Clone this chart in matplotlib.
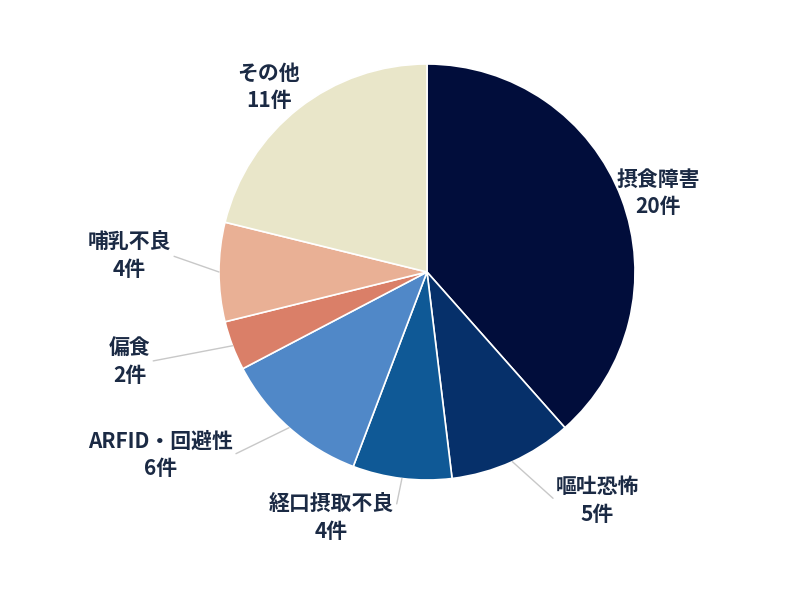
import numpy as np
import matplotlib
matplotlib.use("Agg")
import matplotlib.pyplot as plt

plt.rcParams['font.family'] = ['Noto Sans CJK JP', 'DejaVu Sans']

# data (clockwise from 12 o'clock)
categories = ['摂食障害', '嘔吐恐怖', '経口摂取不良', 'ARFID・回避性', '偏食', '哺乳不良', 'その他']
counts = [20, 5, 4, 6, 2, 4, 11]
colors = ['#010d3b', '#06306a', '#0f5996', '#5088c8', '#da7f68', '#e9b095', '#e9e6c9']

# label centres (data units, pie radius = 1), leader line on/off
label_pos = [(1.11, 0.38), (0.82, -1.10), (-0.46, -1.18), (-1.28, -0.88),
             (-1.43, -0.43), (-1.43, 0.08), (-0.76, 0.89)]
leader = [False, True, True, True, True, True, False]

fig = plt.figure(figsize=(7.88, 6.05), dpi=100)
R_px = 208
ax = fig.add_axes([(427 - R_px) / 788, (605 - 272 - R_px) / 605,
                   2 * R_px / 788, 2 * R_px / 605])

wedges, _ = ax.pie(counts, colors=colors, startangle=90, counterclock=False,
                   radius=1, wedgeprops=dict(edgecolor='white', linewidth=1.2))
ax.set_xlim(-1, 1)
ax.set_ylim(-1, 1)
ax.set_aspect('equal')
ax.axis('off')

fs = 15
for w, cat, n, pos, ld in zip(wedges, categories, counts, label_pos, leader):
    ang = np.deg2rad((w.theta1 + w.theta2) / 2)
    edge = (np.cos(ang), np.sin(ang))
    txt = f'{cat}\n{n}件'
    if ld:
        rel = (0, 0.5) if pos[0] > 0 else (1, 0.5)
        ax.annotate(txt, xy=edge, xytext=pos, ha='center', va='center',
                    fontsize=fs, fontweight='bold', color='#1b2a44',
                    linespacing=1.4, annotation_clip=False,
                    arrowprops=dict(arrowstyle='-', color='#c8c8c8', lw=1,
                                    shrinkA=0, shrinkB=0, relpos=rel))
    else:
        ax.text(pos[0], pos[1], txt, ha='center', va='center',
                fontsize=fs, fontweight='bold', color='#1b2a44',
                linespacing=1.4, clip_on=False)

fig.savefig('out.png', dpi=100)
